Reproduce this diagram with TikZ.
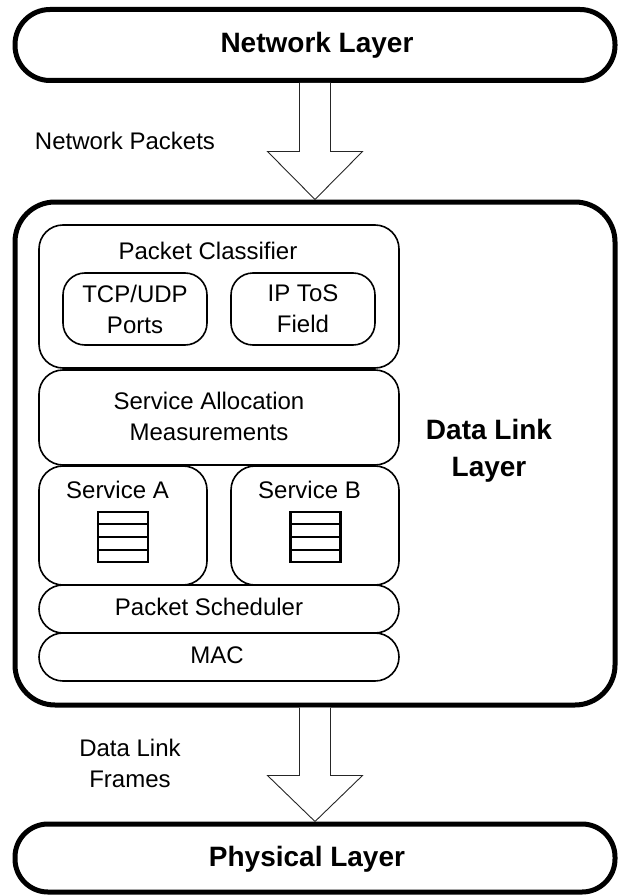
\documentclass[tikz,border=0pt]{standalone}
\usepackage{fontspec}
\setmainfont{Liberation Sans}
\usetikzlibrary{calc}
\begin{document}
\begin{tikzpicture}[x=1pt,y=-1pt,
  txt/.style={font=\fontsize{24}{31}\selectfont, align=center, inner sep=0pt},
  bigtxt/.style={font=\bfseries\fontsize{28}{37}\selectfont, align=center, inner sep=0pt},
  layerbox/.style={draw, line width=5pt, fill=white, inner sep=0pt},
  inbox/.style={draw, line width=1.6pt, fill=white, inner sep=0pt, rounded corners=24pt},
  queuebox/.style={draw, line width=2.5pt, inner sep=0pt, minimum width=50pt, minimum height=50pt},
  qline/.style={line width=2.5pt},
  fatarrow/.style={draw=black!85, line width=0.9pt, fill=white}]
\useasboundingbox (0,0) rectangle (618,896);

% outer layer boxes
\node[layerbox, rounded corners=35pt, minimum width=600pt, minimum height=71pt] (netlayer) at (315,45) {};
\node[layerbox, rounded corners=40pt, minimum width=600pt, minimum height=503pt] (dll) at (315,453.5) {};
\node[layerbox, rounded corners=33pt, minimum width=600pt, minimum height=68pt] (phys) at (315,858) {};

% fat arrows
\draw[fatarrow] ($(netlayer.south)+(-15.5,0)$) -- ($(dll.north)+(-15.5,-48)$) -- ($(dll.north)+(-47.5,-48)$)
  -- (dll.north) -- ($(dll.north)+(47.5,-48)$) -- ($(dll.north)+(15.5,-48)$) -- ($(netlayer.south)+(15.5,0)$);
\draw[fatarrow] ($(dll.south)+(-15.5,0)$) -- ($(phys.north)+(-15.5,-46)$) -- ($(phys.north)+(-47.5,-46)$)
  -- (phys.north) -- ($(phys.north)+(47.5,-46)$) -- ($(phys.north)+(15.5,-46)$) -- ($(dll.south)+(15.5,0)$);

\node[bigtxt] (nltext) at (317,45) {Network Layer};
\node[bigtxt] (phtext) at (307,859) {Physical Layer};
\node[bigtxt] (dlltext) at (489,451) {Data Link\\Layer};
\node[txt] (nptext) at (125,141) {Network Packets};
\node[txt] (dlftext) at (130,763) {Data Link\\Frames};

% inner boxes
\node[inbox, minimum width=360pt, minimum height=143pt] (classifier) at (219,296.5) {};
\node[txt] (classtext) at (208,251) {Packet Classifier};
\node[inbox, rounded corners=22pt, minimum width=144pt, minimum height=72pt, txt] (tcp) at (135,309) {TCP/UDP\\Ports};
\node[inbox, rounded corners=22pt, minimum width=144pt, minimum height=72pt, txt] (tos) at (303,309) {IP ToS\\Field};

\node[inbox, minimum width=360pt, minimum height=95pt] (alloc) at (219,417.5) {};
\node[txt] (alloctext) at (209,416) {Service Allocation\\Measurements};

\node[inbox, minimum width=168pt, minimum height=119pt] (svca) at (123,525.5) {};
\node[inbox, minimum width=168pt, minimum height=119pt] (svcb) at (315,525.5) {};
\node[txt] (svcatext) at (117.5,490) {Service A};
\node[txt] (svcbtext) at (309.5,490) {Service B};

\node[queuebox] (qa) at (123,537) {};
\node[queuebox] (qb) at (315.5,537) {};
\foreach \q in {qa,qb}{
  \foreach \f in {0.25,0.5,0.75}{
    \draw[qline] ($(\q.north west)!\f!(\q.south west)$) -- ($(\q.north east)!\f!(\q.south east)$);
  }
}

\node[inbox, minimum width=360pt, minimum height=48pt] (sched) at (219,609) {};
\node[txt] (schedtext) at (209,607) {Packet Scheduler};
\node[inbox, minimum width=360pt, minimum height=48pt] (mac) at (219,657) {};
\node[txt] (mactext) at (217,655) {MAC};
\end{tikzpicture}
\end{document}
